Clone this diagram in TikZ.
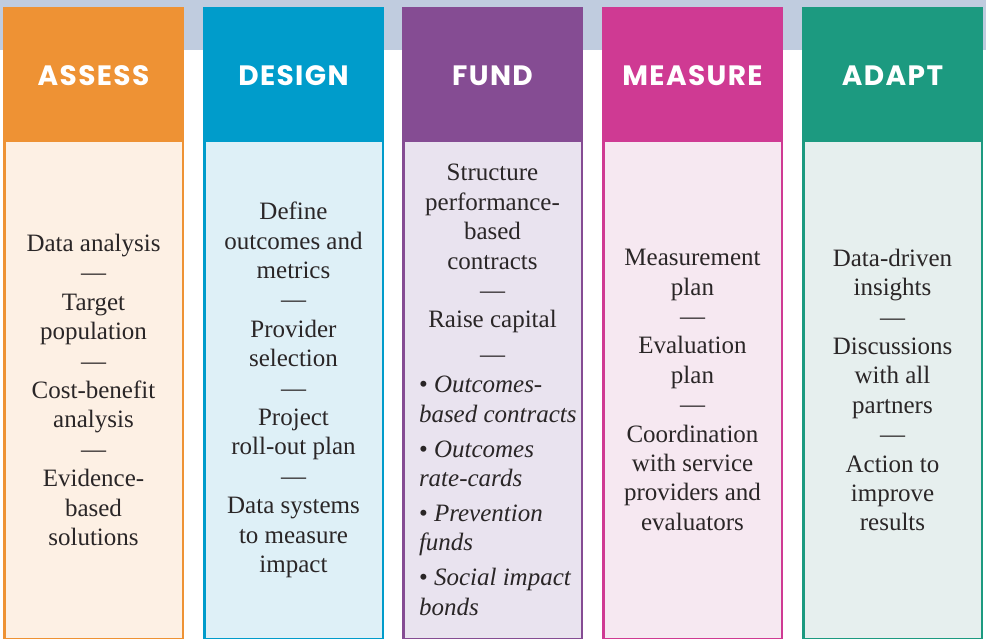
\documentclass[tikz,border=0pt]{standalone}
\usepackage{fontspec}
\setmainfont{Liberation Serif}
\newfontfamily\headfont[LetterSpace=5]{Poppins}
\usepackage{tikz}
\usetikzlibrary{positioning}
\usepackage{xcolor}

\definecolor{stripbg}{HTML}{C0CCDF}
\definecolor{assessdark}{HTML}{EE9234}
\definecolor{assesslight}{HTML}{FDF0E4}
\definecolor{designdark}{HTML}{009CCB}
\definecolor{designlight}{HTML}{DEF0F7}
\definecolor{funddark}{HTML}{854C93}
\definecolor{fundlight}{HTML}{E9E3EF}
\definecolor{measuredark}{HTML}{CF3A93}
\definecolor{measurelight}{HTML}{F6E8F1}
\definecolor{adaptdark}{HTML}{1C9A80}
\definecolor{adaptlight}{HTML}{E6EFEE}
\definecolor{inktext}{HTML}{2A2627}

\begin{document}
\begin{tikzpicture}[x=1pt,y=-1pt,
  head/.style={font=\headfont\bfseries\fontsize{28}{32}\selectfont, text=white,
    minimum width=181pt, minimum height=133pt, inner sep=0pt, text height=24pt, text depth=0pt},
  bodybox/.style={line width=2.5pt, minimum width=178.5pt, minimum height=497.5pt, inner sep=0pt},
  body/.style={font=\fontsize{25}{29.4}\selectfont, text=inktext, align=center, inner sep=0pt}]
  \useasboundingbox (0,0) rectangle (986,639);
  \fill[stripbg] (0,0) rectangle (986,50);
  % one column per step
  \foreach \cx/\name/\lab in {93.5/assess/ASSESS, 293.5/design/DESIGN, 492.5/fund/FUND,
                              692.5/measure/MEASURE, 892.5/adapt/ADAPT} {
    \node[bodybox, fill=\name light, draw=\name dark] (\name box) at (\cx,390) {};
    \node[head, fill=\name dark] (\name) at (\cx,73.5) {\lab};
  }
  \node[body] (assesstext) at (assessbox) {Data analysis\\—\\Target\\population\\—\\Cost-benefit\\analysis\\—\\Evidence-\\based\\solutions};
  \node[body] (designtext) at (designbox) {Define\\outcomes and\\metrics\\—\\Provider\\selection\\—\\Project\\roll-out plan\\—\\Data systems\\to measure\\impact};
  \node[body] (fundtext) at (fundbox) {Structure\\performance-\\based\\contracts\\—\\Raise capital\\[5pt]—\\[1pt]
    \parbox[t]{147pt}{\raggedright
      \mbox{\textbullet\ \textit{Outcomes-}}\\\mbox{\textit{based contracts}}\\[5.6pt]
      \mbox{\textbullet\ \textit{Outcomes}}\\\mbox{\textit{rate-cards}}\\[5.6pt]
      \mbox{\textbullet\ \textit{Prevention}}\\\mbox{\textit{funds}}\\[5.6pt]
      \mbox{\textbullet\ \textit{Social impact}}\\\mbox{\textit{bonds}}}};
  \node[body] (measuretext) at (measurebox) {Measurement\\plan\\—\\Evaluation\\plan\\—\\Coordination\\with service\\providers and\\evaluators};
  \node[body] (adapttext) at (adaptbox) {Data-driven\\insights\\—\\Discussions\\with all\\partners\\—\\Action to\\improve\\results};
\end{tikzpicture}
\end{document}
